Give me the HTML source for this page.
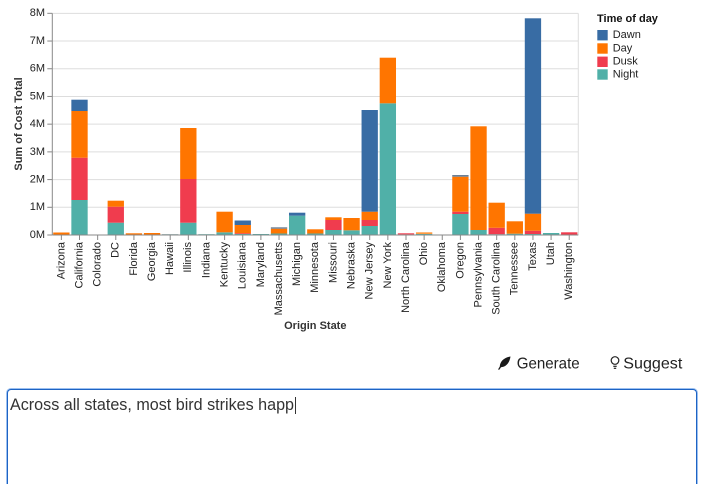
<!DOCTYPE html>
<html><head><meta charset="utf-8"><style>
html,body{margin:0;padding:0;background:#fff;width:711px;height:484px;overflow:hidden;position:relative;font-family:"Liberation Sans",Arial,sans-serif}
svg{position:absolute;left:0;top:0}
.ta{position:absolute;left:7px;top:388.5px;width:688px;height:94px;border:1.5px solid #1d63c4;border-bottom:none;border-radius:4px 4px 0 0;box-shadow:0 0 0 1px #9cc0f0;background:#fff}
</style></head><body>
<svg width="711" height="484" viewBox="0 0 711 484" xmlns="http://www.w3.org/2000/svg" font-family="Liberation Sans, Arial, sans-serif">
<g stroke="#ddd" stroke-width="1" fill="none">
<line x1="52.3" x2="578.3" y1="207.29" y2="207.29"/>
<line x1="52.3" x2="578.3" y1="179.58" y2="179.58"/>
<line x1="52.3" x2="578.3" y1="151.87" y2="151.87"/>
<line x1="52.3" x2="578.3" y1="124.16" y2="124.16"/>
<line x1="52.3" x2="578.3" y1="96.45" y2="96.45"/>
<line x1="52.3" x2="578.3" y1="68.74" y2="68.74"/>
<line x1="52.3" x2="578.3" y1="41.03" y2="41.03"/>
<line x1="52.3" x2="578.3" y1="13.32" y2="13.32"/>
<line x1="578.3" x2="578.3" y1="13.32" y2="235"/>
</g>
<g>
<rect x="53.21" y="232.5" width="16.32" height="2.5" fill="#ff7500"/>
<rect x="71.35" y="200" width="16.32" height="35" fill="#50b0a8"/>
<rect x="71.35" y="157.7" width="16.32" height="42.3" fill="#f03c4e"/>
<rect x="71.35" y="111" width="16.32" height="46.7" fill="#ff7500"/>
<rect x="71.35" y="99.7" width="16.32" height="11.3" fill="#386ca4"/>
<rect x="107.62" y="222.7" width="16.32" height="12.3" fill="#50b0a8"/>
<rect x="107.62" y="206.7" width="16.32" height="16" fill="#f03c4e"/>
<rect x="107.62" y="200.7" width="16.32" height="6" fill="#ff7500"/>
<rect x="125.76" y="233.3" width="16.32" height="1.7" fill="#ff7500"/>
<rect x="143.90" y="233" width="16.32" height="2" fill="#ff7500"/>
<rect x="162.04" y="234.2" width="16.32" height="0.8" fill="#7fa5a2"/>
<rect x="180.17" y="222.7" width="16.32" height="12.3" fill="#50b0a8"/>
<rect x="180.17" y="179" width="16.32" height="43.7" fill="#f03c4e"/>
<rect x="180.17" y="128" width="16.32" height="51" fill="#ff7500"/>
<rect x="198.31" y="234.2" width="16.32" height="0.8" fill="#50b0a8"/>
<rect x="216.45" y="232.3" width="16.32" height="2.7" fill="#50b0a8"/>
<rect x="216.45" y="211.7" width="16.32" height="20.6" fill="#ff7500"/>
<rect x="234.59" y="234" width="16.32" height="1" fill="#50b0a8"/>
<rect x="234.59" y="233.2" width="16.32" height="0.8" fill="#f03c4e"/>
<rect x="234.59" y="225" width="16.32" height="8.2" fill="#ff7500"/>
<rect x="234.59" y="220.5" width="16.32" height="4.5" fill="#386ca4"/>
<rect x="252.73" y="234" width="16.32" height="1" fill="#50b0a8"/>
<rect x="270.86" y="233.5" width="16.32" height="1.5" fill="#50b0a8"/>
<rect x="270.86" y="228.7" width="16.32" height="4.8" fill="#ff7500"/>
<rect x="270.86" y="227.3" width="16.32" height="1.4" fill="#6a7f96"/>
<rect x="289.00" y="215.7" width="16.32" height="19.3" fill="#50b0a8"/>
<rect x="289.00" y="212.7" width="16.32" height="3" fill="#386ca4"/>
<rect x="307.14" y="233.5" width="16.32" height="1.5" fill="#50b0a8"/>
<rect x="307.14" y="229.3" width="16.32" height="4.2" fill="#ff7500"/>
<rect x="325.28" y="230" width="16.32" height="5" fill="#50b0a8"/>
<rect x="325.28" y="220" width="16.32" height="10" fill="#f03c4e"/>
<rect x="325.28" y="217.3" width="16.32" height="2.7" fill="#ff7500"/>
<rect x="343.41" y="230.3" width="16.32" height="4.7" fill="#50b0a8"/>
<rect x="343.41" y="218" width="16.32" height="12.3" fill="#ff7500"/>
<rect x="361.55" y="226" width="16.32" height="9" fill="#50b0a8"/>
<rect x="361.55" y="220" width="16.32" height="6" fill="#f03c4e"/>
<rect x="361.55" y="211.7" width="16.32" height="8.3" fill="#ff7500"/>
<rect x="361.55" y="110" width="16.32" height="101.7" fill="#386ca4"/>
<rect x="379.69" y="103.3" width="16.32" height="131.7" fill="#50b0a8"/>
<rect x="379.69" y="57.7" width="16.32" height="45.6" fill="#ff7500"/>
<rect x="397.83" y="234.4" width="16.32" height="0.6" fill="#8a9a9a"/>
<rect x="397.83" y="233.3" width="16.32" height="1.1" fill="#f03c4e"/>
<rect x="415.97" y="234" width="16.32" height="1" fill="#50b0a8"/>
<rect x="415.97" y="232.3" width="16.32" height="1.7" fill="#ff9a40"/>
<rect x="452.24" y="214" width="16.32" height="21" fill="#50b0a8"/>
<rect x="452.24" y="211.7" width="16.32" height="2.3" fill="#f03c4e"/>
<rect x="452.24" y="176.7" width="16.32" height="35" fill="#ff7500"/>
<rect x="452.24" y="175" width="16.32" height="1.7" fill="#6a7f96"/>
<rect x="470.38" y="230" width="16.32" height="5" fill="#50b0a8"/>
<rect x="470.38" y="126.3" width="16.32" height="103.7" fill="#ff7500"/>
<rect x="488.52" y="234.2" width="16.32" height="0.8" fill="#50b0a8"/>
<rect x="488.52" y="227.8" width="16.32" height="6.4" fill="#f03c4e"/>
<rect x="488.52" y="202.7" width="16.32" height="25.1" fill="#ff7500"/>
<rect x="506.66" y="233.7" width="16.32" height="1.3" fill="#50b0a8"/>
<rect x="506.66" y="221.3" width="16.32" height="12.4" fill="#ff7500"/>
<rect x="524.79" y="234" width="16.32" height="1" fill="#50b0a8"/>
<rect x="524.79" y="230.7" width="16.32" height="3.3" fill="#f03c4e"/>
<rect x="524.79" y="213.7" width="16.32" height="17" fill="#ff7500"/>
<rect x="524.79" y="18.3" width="16.32" height="195.4" fill="#386ca4"/>
<rect x="542.93" y="233" width="16.32" height="2" fill="#50b0a8"/>
<rect x="561.07" y="232.3" width="16.32" height="2.7" fill="#f03c4e"/>
</g>
<g stroke="#888" stroke-width="1">
<line x1="52.3" x2="52.3" y1="13.32" y2="235"/>
<line x1="52.3" x2="578.3" y1="235" y2="235"/>
<line x1="47.3" x2="52.3" y1="235" y2="235"/>
<line x1="47.3" x2="52.3" y1="207.29" y2="207.29"/>
<line x1="47.3" x2="52.3" y1="179.58" y2="179.58"/>
<line x1="47.3" x2="52.3" y1="151.87" y2="151.87"/>
<line x1="47.3" x2="52.3" y1="124.16" y2="124.16"/>
<line x1="47.3" x2="52.3" y1="96.45" y2="96.45"/>
<line x1="47.3" x2="52.3" y1="68.74" y2="68.74"/>
<line x1="47.3" x2="52.3" y1="41.03" y2="41.03"/>
<line x1="47.3" x2="52.3" y1="13.32" y2="13.32"/>
</g>
<g stroke="#888" stroke-width="1">
<line x1="61.37" x2="61.37" y1="235" y2="240"/><line x1="79.51" x2="79.51" y1="235" y2="240"/><line x1="97.65" x2="97.65" y1="235" y2="240"/><line x1="115.78" x2="115.78" y1="235" y2="240"/><line x1="133.92" x2="133.92" y1="235" y2="240"/><line x1="152.06" x2="152.06" y1="235" y2="240"/><line x1="170.20" x2="170.20" y1="235" y2="240"/><line x1="188.33" x2="188.33" y1="235" y2="240"/><line x1="206.47" x2="206.47" y1="235" y2="240"/><line x1="224.61" x2="224.61" y1="235" y2="240"/><line x1="242.75" x2="242.75" y1="235" y2="240"/><line x1="260.89" x2="260.89" y1="235" y2="240"/><line x1="279.02" x2="279.02" y1="235" y2="240"/><line x1="297.16" x2="297.16" y1="235" y2="240"/><line x1="315.30" x2="315.30" y1="235" y2="240"/><line x1="333.44" x2="333.44" y1="235" y2="240"/><line x1="351.57" x2="351.57" y1="235" y2="240"/><line x1="369.71" x2="369.71" y1="235" y2="240"/><line x1="387.85" x2="387.85" y1="235" y2="240"/><line x1="405.99" x2="405.99" y1="235" y2="240"/><line x1="424.13" x2="424.13" y1="235" y2="240"/><line x1="442.26" x2="442.26" y1="235" y2="240"/><line x1="460.40" x2="460.40" y1="235" y2="240"/><line x1="478.54" x2="478.54" y1="235" y2="240"/><line x1="496.68" x2="496.68" y1="235" y2="240"/><line x1="514.82" x2="514.82" y1="235" y2="240"/><line x1="532.95" x2="532.95" y1="235" y2="240"/><line x1="551.09" x2="551.09" y1="235" y2="240"/><line x1="569.23" x2="569.23" y1="235" y2="240"/>
</g>
<g font-size="11" fill="#222" text-anchor="end" dominant-baseline="middle">
<text x="45" y="235">0M</text>
<text x="45" y="207.29">1M</text>
<text x="45" y="179.58">2M</text>
<text x="45" y="151.87">3M</text>
<text x="45" y="124.16">4M</text>
<text x="45" y="96.45">5M</text>
<text x="45" y="68.74">6M</text>
<text x="45" y="41.03">7M</text>
<text x="45" y="13.32">8M</text>
</g>
<g font-size="11" fill="#222" text-anchor="end" dominant-baseline="middle">
<text transform="translate(61.37,242) rotate(-90)">Arizona</text>
<text transform="translate(79.51,242) rotate(-90)">California</text>
<text transform="translate(97.65,242) rotate(-90)">Colorado</text>
<text transform="translate(115.78,242) rotate(-90)">DC</text>
<text transform="translate(133.92,242) rotate(-90)">Florida</text>
<text transform="translate(152.06,242) rotate(-90)">Georgia</text>
<text transform="translate(170.20,242) rotate(-90)">Hawaii</text>
<text transform="translate(188.33,242) rotate(-90)">Illinois</text>
<text transform="translate(206.47,242) rotate(-90)">Indiana</text>
<text transform="translate(224.61,242) rotate(-90)">Kentucky</text>
<text transform="translate(242.75,242) rotate(-90)">Louisiana</text>
<text transform="translate(260.89,242) rotate(-90)">Maryland</text>
<text transform="translate(279.02,242) rotate(-90)">Massachusetts</text>
<text transform="translate(297.16,242) rotate(-90)">Michigan</text>
<text transform="translate(315.30,242) rotate(-90)">Minnesota</text>
<text transform="translate(333.44,242) rotate(-90)">Missouri</text>
<text transform="translate(351.57,242) rotate(-90)">Nebraska</text>
<text transform="translate(369.71,242) rotate(-90)">New Jersey</text>
<text transform="translate(387.85,242) rotate(-90)">New York</text>
<text transform="translate(405.99,242) rotate(-90)">North Carolina</text>
<text transform="translate(424.13,242) rotate(-90)">Ohio</text>
<text transform="translate(442.26,242) rotate(-90)">Oklahoma</text>
<text transform="translate(460.40,242) rotate(-90)">Oregon</text>
<text transform="translate(478.54,242) rotate(-90)">Pennsylvania</text>
<text transform="translate(496.68,242) rotate(-90)">South Carolina</text>
<text transform="translate(514.82,242) rotate(-90)">Tennessee</text>
<text transform="translate(532.95,242) rotate(-90)">Texas</text>
<text transform="translate(551.09,242) rotate(-90)">Utah</text>
<text transform="translate(569.23,242) rotate(-90)">Washington</text>
</g>
<text transform="translate(19,124) rotate(-90)" font-size="11" font-weight="bold" fill="#333" text-anchor="middle" dominant-baseline="middle">Sum of Cost Total</text>
<text x="315.3" y="329" font-size="11" font-weight="bold" fill="#333" text-anchor="middle">Origin State</text>
<text x="597" y="22" font-size="11" font-weight="bold" fill="#111">Time of day</text>
<rect x="597.3" y="30" width="10.4" height="10.4" fill="#386ca4"/>
<rect x="597.3" y="43.3" width="10.4" height="10.4" fill="#ff7500"/>
<rect x="597.3" y="56.6" width="10.4" height="10.4" fill="#f03c4e"/>
<rect x="597.3" y="69.3" width="10.4" height="10.4" fill="#50b0a8"/>
<g font-size="11" fill="#222" dominant-baseline="middle">
<text x="612.7" y="35.2">Dawn</text>
<text x="612.7" y="48.5">Day</text>
<text x="612.7" y="61.8">Dusk</text>
<text x="612.7" y="74.5">Night</text>
</g>
<path d="M510.5,356.5 C504,357.5 500,361.5 499.8,366.5 L498,369.5 L499.3,369.8 L501,367.2 C506,367 509.5,363 510.5,356.5 Z" fill="#1a1a1a"/>
<text x="516.7" y="368.5" font-size="16" fill="#222" textLength="63" lengthAdjust="spacingAndGlyphs">Generate</text>
<circle cx="615" cy="360.5" r="3.8" fill="none" stroke="#222" stroke-width="1.2"/>
<line x1="613.3" x2="616.7" y1="366.3" y2="366.3" stroke="#222" stroke-width="1.2"/>
<line x1="613.8" x2="616.2" y1="368.3" y2="368.3" stroke="#222" stroke-width="1.2"/>
<text x="623.3" y="368.5" font-size="16" fill="#222" textLength="59" lengthAdjust="spacingAndGlyphs">Suggest</text>
</svg>
<div class="ta"></div>
<svg width="711" height="484" viewBox="0 0 711 484" xmlns="http://www.w3.org/2000/svg" font-family="Liberation Sans, Arial, sans-serif">
<text x="10" y="410" font-size="16.2" fill="#333" textLength="284" lengthAdjust="spacingAndGlyphs">Across all states, most bird strikes happ</text>
<line x1="295.5" x2="295.5" y1="397" y2="414" stroke="#333" stroke-width="1"/>
</svg>
</body></html>
